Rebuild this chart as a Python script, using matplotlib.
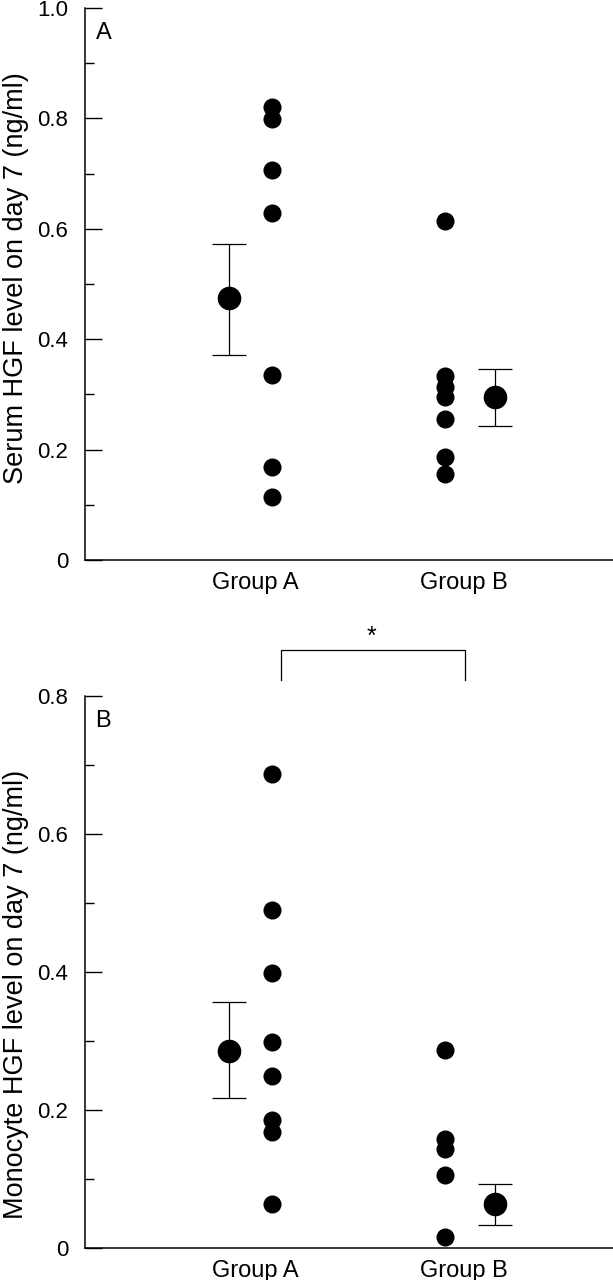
import matplotlib
matplotlib.use("Agg")
import matplotlib.pyplot as plt
from matplotlib.ticker import MultipleLocator

plt.rcParams['font.family'] = ['Liberation Sans', 'DejaVu Sans']

groups = ['Group A', 'Group B']

# panel A: serum HGF (ng/ml)
serum_a = [0.821, 0.799, 0.707, 0.629, 0.335, 0.168, 0.114]
serum_b = [0.614, 0.333, 0.313, 0.295, 0.255, 0.187, 0.156]
serum_mean = [0.475, 0.295]
serum_err_lo = [0.371, 0.243]
serum_err_hi = [0.572, 0.346]

# panel B: monocyte HGF (ng/ml)
mono_a = [0.687, 0.490, 0.399, 0.298, 0.249, 0.186, 0.168, 0.064]
mono_b = [0.287, 0.158, 0.144, 0.106, 0.016]
mono_mean = [0.285, 0.064]
mono_err_lo = [0.217, 0.033]
mono_err_hi = [0.357, 0.093]

fig = plt.figure(figsize=(6.13, 12.8), dpi=100)
axA = fig.add_axes([0.1387, 0.5625, 0.8613, 0.43125])
axB = fig.add_axes([0.1387, 0.025, 0.8613, 0.43125])

dot_x = [1.084, 1.936]
mean_x = [0.87, 2.18]


def panel(ax, a, b, mean, lo, hi, ymax, ylabel, label_y, letter, ticklabels):
    ax.plot([dot_x[0]] * len(a), a, 'o', color='black', ms=13, mec='none')
    ax.plot([dot_x[1]] * len(b), b, 'o', color='black', ms=13, mec='none')
    yerr = [[m - l for m, l in zip(mean, lo)], [h - m for m, h in zip(mean, hi)]]
    ax.errorbar(mean_x, mean, yerr=yerr, fmt='o', color='black', ms=17,
                mec='none', ecolor='black', elinewidth=0.9, capsize=12,
                capthick=0.9)
    ax.set_xlim(0.163, 2.763)
    ax.set_ylim(0, ymax)
    for s in ['top', 'right']:
        ax.spines[s].set_visible(False)
    for s in ['left', 'bottom']:
        ax.spines[s].set_linewidth(1.1)
    ax.set_xticks([1.0, 2.03])
    ax.set_xticklabels(groups, fontsize=17)
    ax.tick_params(axis='x', length=0, pad=9)
    ax.yaxis.set_minor_locator(MultipleLocator(0.1))
    ax.set_yticks([i * 0.2 for i in range(len(ticklabels))])
    ax.set_yticklabels(ticklabels, fontsize=16)
    ax.tick_params(axis='y', which='major', direction='in', length=12.5,
                   width=1.0, pad=12)
    ax.tick_params(axis='y', which='minor', direction='in', length=6.5,
                   width=1.0)
    ax.set_ylabel(ylabel, fontsize=19.5, labelpad=6)
    ax.yaxis.label.set_y(label_y)
    ax.text(0.02, 0.975, letter, transform=ax.transAxes, fontsize=17,
            va='top', ha='left')


panel(axA, serum_a, serum_b, serum_mean, serum_err_lo, serum_err_hi, 1.0,
      'Serum HGF level on day 7 (ng/ml)', 0.51, 'A',
      ['0', '0.2', '0.4', '0.6', '0.8', '1.0'])
panel(axB, mono_a, mono_b, mono_mean, mono_err_lo, mono_err_hi, 0.8,
      'Monocyte HGF level on day 7 (ng/ml)', 0.46, 'B',
      ['0', '0.2', '0.4', '0.6', '0.8'])

# significance bracket above panel B
bx = [1.128, 1.128, 2.034, 2.034]
by = [0.823, 0.867, 0.867, 0.823]
axB.plot(bx, by, color='black', lw=0.9, clip_on=False)
axB.text(1.576, 0.868, '*', fontsize=18, ha='center', va='bottom')

fig.savefig('out.png', dpi=100)
